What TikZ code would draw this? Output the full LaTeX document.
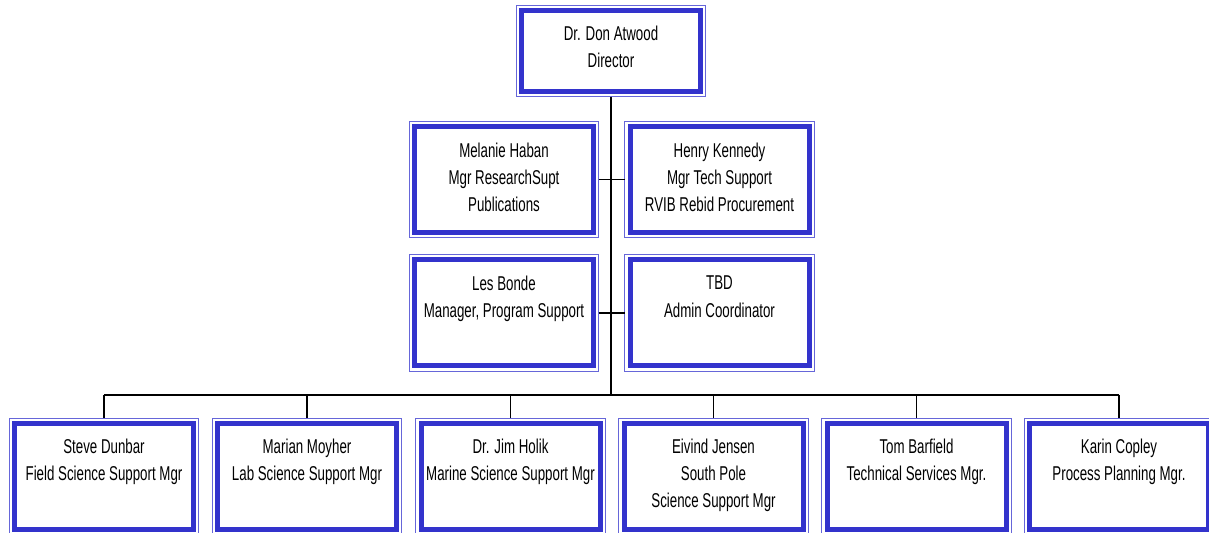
\documentclass[tikz,border=0pt]{standalone}
\usepackage{fontspec}
\setmainfont[FakeStretch=0.665]{Liberation Sans}
\usetikzlibrary{positioning}
\definecolor{boxblue}{RGB}{51,51,204}

\begin{document}
\begin{tikzpicture}[x=0.5pt, y=-0.5pt,
    box/.style={draw=boxblue, line width=2.5pt, fill=white, inner sep=0pt, outer sep=2.6pt,
                minimum width=89.5pt, minimum height=53pt},
    rim/.style={draw=boxblue!75, line width=0.6pt},
    txt/.style={anchor=north, align=center, inner sep=0pt, font=\fontsize{10}{13.6}\selectfont},
    link/.style={draw=black, line width=0.8pt}]
    \useasboundingbox (0,0) rectangle (1209,533);
    \clip (0,0) rectangle (1209,533);

    % director
    \node[box, minimum height=40.5pt] (don) at (611,51) {};
    \node[txt, below=10pt of don.north] (don-t) {Dr. Don Atwood\\Director};

    % staff
    \node[box] (mel) at (504,179.5) {};
    \node[txt, below=10.5pt of mel.north] (mel-t) {Melanie Haban\\Mgr ResearchSupt\\Publications};

    \node[box] (hen) at (719.5,179.5) {};
    \node[txt, below=10.5pt of hen.north] (hen-t) {Henry Kennedy\\Mgr Tech Support\\RVIB Rebid Procurement};

    \node[box] (les) at (504,313) {};
    \node[txt, below=10.5pt of les.north] (les-t) {Les Bonde\\Manager, Program Support};

    \node[box] (tbd) at (719.5,313) {};
    \node[txt, below=10.5pt of tbd.north] (tbd-t) {TBD\\Admin Coordinator};

    % managers
    \node[box] (dunbar) at (104,476.5) {};
    \node[txt, below=10pt of dunbar.north] (dunbar-t) {Steve Dunbar\\Field Science Support Mgr};

    \node[box] (moyher) at (307,476.5) {};
    \node[txt, below=10pt of moyher.north] (moyher-t) {Marian Moyher\\Lab Science Support Mgr};

    \node[box] (holik) at (510.5,476.5) {};
    \node[txt, below=10pt of holik.north] (holik-t) {Dr. Jim Holik\\Marine Science Support Mgr};

    \node[box] (jensen) at (713.5,476.5) {};
    \node[txt, below=10pt of jensen.north] (jensen-t) {Eivind Jensen\\South Pole\\Science Support Mgr};

    \node[box] (barfield) at (916.5,476.5) {};
    \node[txt, below=10pt of barfield.north] (barfield-t) {Tom Barfield\\Technical Services Mgr.};

    \node[box] (copley) at (1119,476.5) {};
    \node[txt, below=10pt of copley.north] (copley-t) {Karin Copley\\Process Planning Mgr.};

    \foreach \n in {don,mel,hen,les,tbd,dunbar,moyher,holik,jensen,barfield,copley}
      \draw[rim] (\n.north west) rectangle (\n.south east);

    % lines
    \coordinate (bus) at (611,395);
    \draw[link] (don.south) -- (bus);
    \draw[link] (mel.east) -- (hen.west);
    \draw[link] (les.east) -- (tbd.west);
    \draw[link] (dunbar.north |- bus) -- (copley.north |- bus);
    \foreach \n in {dunbar,moyher,holik,jensen,barfield,copley}
      \draw[link] (\n.north |- bus) -- (\n.north);
\end{tikzpicture}
\end{document}
